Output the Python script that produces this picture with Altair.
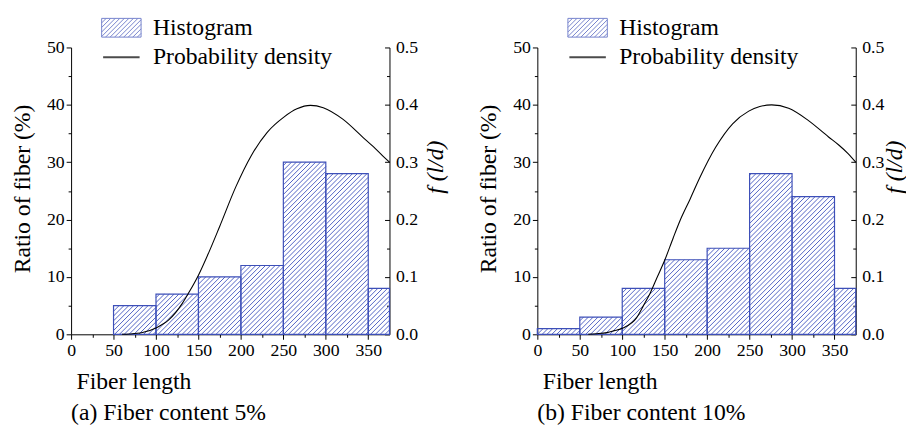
import math
import altair as alt
import pandas as pd

FONT = "Liberation Serif"
BLUE = "#3d4fb8"
HATCH_BLUE = "#5264c4"

# ---------------- data ----------------
# (a) Fiber content 5%
a_start = [50, 100, 150, 200, 250, 300, 350]
a_end = [100, 150, 200, 250, 300, 350, 375]
a_ratio = [5, 7, 10, 12, 30, 28, 8]
a_len = [60, 69, 84, 100, 115, 131, 138, 150, 162, 175, 194, 212, 231, 251,
         266, 282, 297, 320, 344, 356, 367, 375]
a_pdf = [0.0, 0.0005, 0.003, 0.011, 0.025, 0.054, 0.071, 0.103, 0.142, 0.188,
         0.257, 0.311, 0.352, 0.379, 0.393, 0.399, 0.395, 0.375, 0.343, 0.327,
         0.311, 0.300]

# (b) Fiber content 10%
b_start = [0, 50, 100, 150, 200, 250, 300, 350]
b_end = [50, 100, 150, 200, 250, 300, 350, 375]
b_ratio = [1, 3, 8, 13, 15, 28, 24, 8]
b_len = [60, 70, 82, 90, 101, 117, 125, 133, 141, 150, 160, 168, 180, 191, 210,
         230, 249, 262, 276, 296, 319, 343, 355, 366, 375]
b_pdf = [0.0, 0.001, 0.003, 0.006, 0.011, 0.029, 0.05, 0.072, 0.099, 0.129,
         0.168, 0.198, 0.236, 0.272, 0.326, 0.367, 0.389, 0.397, 0.400, 0.394,
         0.373, 0.344, 0.330, 0.315, 0.300]

series_names = ["Histogram", "Probability density"]
captions = ["(a) Fiber content 5%", "(b) Fiber content 10%"]

W, H = 323, 291
XMAX, YMAX, PMAX = 375, 50, 0.5
SP = 4.9  # hatch spacing (px)


def hatch(starts, ends, vals):
    kx = W / XMAX
    ky = H / YMAX
    rows = []
    for s, e, v in zip(starts, ends, vals):
        X0, X1, Y1 = s * kx, e * kx, v * ky
        kmin = math.floor(-X1 / SP)
        kmax = math.ceil((Y1 - X0) / SP)
        for k in range(kmin, kmax + 1):
            c = k * SP
            xs = max(X0, -c)
            xe = min(X1, Y1 - c)
            if xe - xs > 0.4:
                rows.append({"hx": xs / kx, "hy": (xs + c) / ky,
                             "hx2": xe / kx, "hy2": (xe + c) / ky})
    return pd.DataFrame(rows)


# legend symbols: size 400 -> 1 unit = 10 px
def hatch_symbol():
    hw, hh = 2.0, 0.95
    parts = [f"M{-hw},{-hh}H{hw}V{hh}H{-hw}Z"]
    step = 0.46
    x = -hw - 2 * hh
    while x < hw:
        xs = max(x, -hw)
        ys = hh - (xs - x)
        xe = min(x + 2 * hh, hw)
        ye = hh - (xe - x)
        if xe - xs > 0.04:
            parts.append(f"M{xs:.3f},{ys:.3f}L{xe:.3f},{ye:.3f}")
        x += step
    return "".join(parts)


LINE_SYMBOL = "M-1.85,0H1.85"

xscale = alt.Scale(domain=[0, XMAX], nice=False, zero=True)
yscale = alt.Scale(domain=[0, YMAX], nice=False)
pscale = alt.Scale(domain=[0, PMAX], nice=False)

TXT = dict(labelFont=FONT, labelFontSize=18, labelColor="black",
           titleFont=FONT, titleFontSize=24, titleFontWeight="normal",
           titleColor="black", domainColor="black", tickColor="black",
           grid=False, labelFlush=False)

x_axis = alt.Axis(
    values=list(range(0, 351, 25)),
    labelExpr="datum.value % 50 === 0 ? format(datum.value, 'd') : ''",
    tickSize={"expr": "datum.value % 50 === 0 ? 5 : 3"},
    labelPadding=2,
    title="Fiber length", titleAnchor="start",
    titleAlign="left", titleX=5, titleY=55, titleBaseline="alphabetic",
    **TXT,
)

y_axis = alt.Axis(
    orient="left",
    values=list(range(0, 51, 5)),
    labelExpr="datum.value % 10 === 0 ? format(datum.value, 'd') : ''",
    tickSize={"expr": "datum.value % 10 === 0 ? 5 : 3"},
    labelPadding=2,
    title="Ratio of fiber (%)", titleAngle=270,
    titleX=-42, titleY=143, titleAlign="center", titleBaseline="alphabetic",
    **TXT,
)


def p_axis(tx):
    return alt.Axis(
        orient="right",
        values=[round(i * 0.05, 2) for i in range(11)],
        labelExpr="round(datum.value*100) % 10 === 0 ? format(datum.value, '.1f') : ''",
        tickSize={"expr": "round(datum.value*100) % 10 === 0 ? -5 : -3"},
        labelPadding=11,
        title="f (l/d)", titleFontStyle="italic", titleAngle=270,
        titleX=tx, titleY=121, titleAlign="center", titleBaseline="alphabetic",
        **TXT,
    )


LEG = alt.Legend(orient="none", legendX=39, legendY=-32, title=None,
                 direction="vertical")


def panel(starts, ends, ratios, lens, pdfs, caption, tx):
    bars_df = pd.DataFrame({"start": starts, "end": ends, "ratio": ratios})
    line_df = pd.DataFrame({"len": lens, "pdf": pdfs})
    hatch_df = hatch(starts, ends, ratios)
    leg_df = pd.DataFrame({"series": series_names})

    hatch_layer = alt.Chart(hatch_df).mark_rule(
        color=HATCH_BLUE, strokeWidth=1.0
    ).encode(
        x=alt.X("hx:Q", scale=xscale, axis=x_axis),
        x2="hx2:Q",
        y=alt.Y("hy:Q", scale=yscale, axis=None),
        y2="hy2:Q",
    )
    bar_layer = alt.Chart(bars_df).mark_rect(
        fill="white", fillOpacity=0, stroke=BLUE, strokeWidth=1.2
    ).encode(
        x=alt.X("start:Q", scale=xscale, axis=x_axis),
        x2="end:Q",
        y=alt.Y("ratio:Q", scale=yscale, axis=y_axis),
        y2=alt.datum(0),
    )
    leg_layer = alt.Chart(leg_df).mark_point(filled=False, clip=True).encode(
        x=alt.value(-300),
        y=alt.value(-300),
        shape=alt.Shape("series:N", scale=alt.Scale(domain=series_names,
                        range=[hatch_symbol(), LINE_SYMBOL]), legend=LEG),
        stroke=alt.Stroke("series:N", scale=alt.Scale(domain=series_names,
                          range=[BLUE, "black"]), legend=LEG),
        strokeWidth=alt.StrokeWidth("series:N", scale=alt.Scale(domain=series_names,
                                    range=[1, 2]), legend=LEG),
    )
    line_layer = alt.Chart(line_df).mark_line(
        color="black", strokeWidth=1.1, interpolate="monotone"
    ).encode(
        x=alt.X("len:Q", scale=xscale, axis=x_axis),
        y=alt.Y("pdf:Q", scale=pscale, axis=p_axis(tx)),
    )

    return alt.layer(hatch_layer, bar_layer, leg_layer, line_layer).resolve_scale(
        y="independent"
    ).properties(
        width=W, height=H,
        title=alt.TitleParams(caption, orient="bottom", anchor="start", frame="group",
                              font=FONT, fontSize=24, fontWeight="normal",
                              color="black", offset=8),
    )


pa = panel(a_start, a_end, a_ratio, a_len, a_pdf, captions[0], 54)
pb = panel(b_start, b_end, b_ratio, b_len, b_pdf, captions[1], 46)

chart = alt.hconcat(pa, pb, spacing=29).resolve_scale(
    shape="independent", stroke="independent", strokeWidth="independent"
).properties(
    padding={"left": 2, "top": 5, "right": 0, "bottom": 0},
    background="white",
).configure_view(
    stroke=None
).configure_axis(
    grid=False, labelFont=FONT, labelFontSize=18, labelColor="black",
    domainColor="black", tickColor="black", labelFlush=False,
    titleFont=FONT, titleFontSize=24, titleFontWeight="normal", titleColor="black",
).configure_legend(
    labelFont=FONT, labelFontSize=24, labelColor="black", labelLimit=400,
    symbolSize=400, labelOffset=20, rowPadding=6, padding=0,
)

chart.save("out.html", embed_options={"renderer": "svg", "actions": False})
